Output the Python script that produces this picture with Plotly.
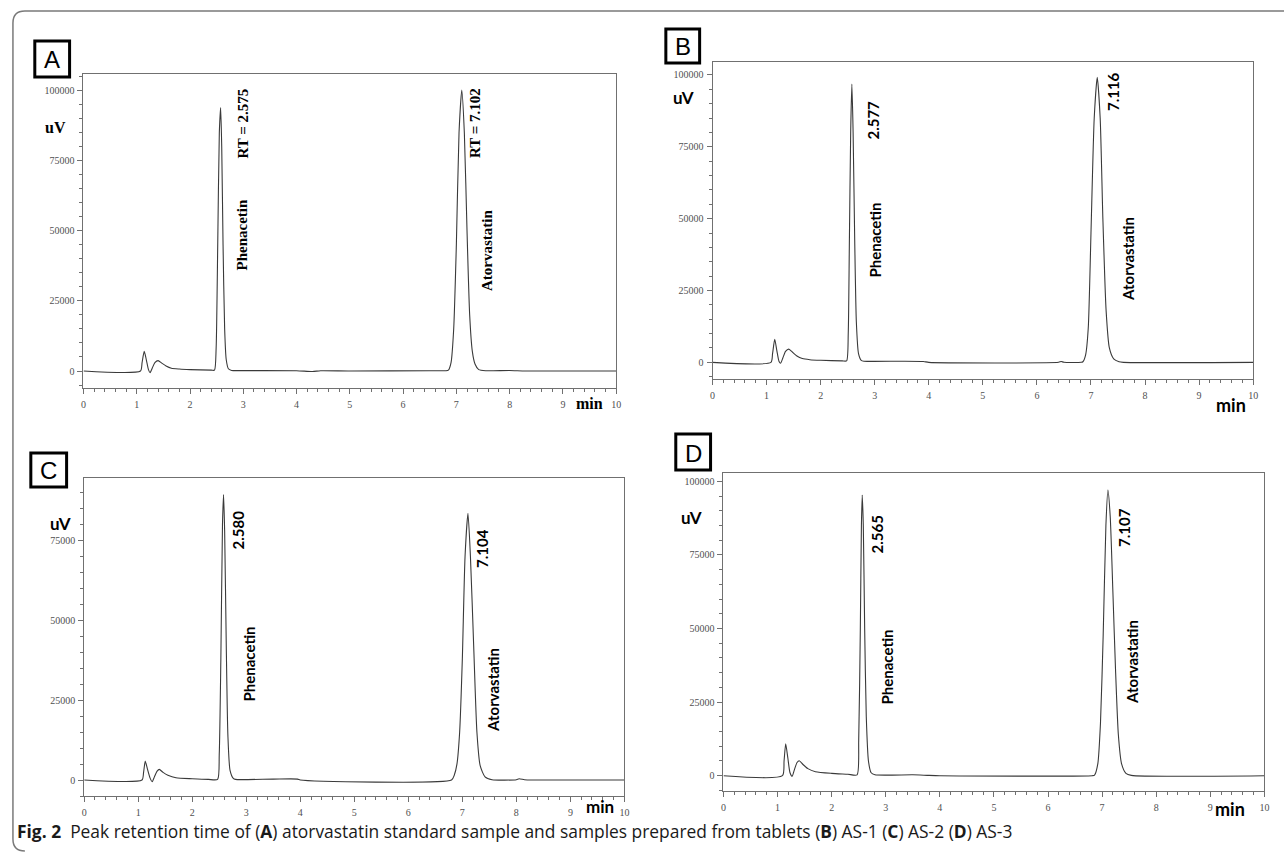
import plotly.graph_objects as go

# ---------------- data ----------------
t_A = [0, 1.07, 1.10, 1.14, 1.18, 1.22, 1.25, 1.29, 1.34, 1.40, 1.47, 1.55, 1.65, 1.80, 2.00, 2.40,
       2.46, 2.49, 2.52, 2.55, 2.575, 2.595, 2.62, 2.65, 2.68, 2.72, 2.78, 3.00, 4.00, 4.30, 4.45, 5.00,
       6.50, 6.80, 6.85, 6.90, 6.95, 7.00, 7.05, 7.102, 7.15, 7.20, 7.25, 7.30, 7.35, 7.42, 7.55, 8.00, 8.30, 10]
uv_A = [0, 0, 3000, 7000, 4000, 500, -600, 1000, 3000, 3700, 2800, 1800, 1000, 700, 500, 300,
        300, 8000, 45000, 85000, 94000, 80000, 45000, 15000, 4000, 800, 200, 150, 100, -200, 100, 0,
        100, 100, 300, 3000, 15000, 45000, 85000, 100200, 85000, 50000, 20000, 7000, 2500, 500, 100, 200, 0, 0]

t_B = [0, 1.08, 1.11, 1.15, 1.19, 1.23, 1.26, 1.30, 1.35, 1.41, 1.48, 1.56, 1.66, 1.80, 2.00, 2.40,
       2.48, 2.51, 2.53, 2.555, 2.577, 2.60, 2.63, 2.66, 2.70, 2.75, 2.80, 3.50, 3.90, 4.00, 6.40, 6.45, 6.50,
       6.82, 6.85, 6.90, 6.95, 7.00, 7.06, 7.116, 7.17, 7.22, 7.28, 7.34, 7.42, 7.52, 7.60, 10]
uv_B = [0, 0, 3000, 8000, 4000, 300, -300, 1500, 3800, 4600, 3500, 2200, 1300, 900, 700, 500,
        500, 10000, 40000, 80000, 96800, 80000, 42000, 14000, 3000, 700, 400, 400, 300, 0, 0, 300, 0,
        0, 200, 2500, 12000, 45000, 85000, 99200, 85000, 50000, 18000, 5000, 1200, 200, 0, 0]

t_C = [0, 1.07, 1.10, 1.13, 1.17, 1.22, 1.26, 1.30, 1.35, 1.39, 1.46, 1.55, 1.70, 2.00, 2.30,
       2.47, 2.50, 2.53, 2.56, 2.58, 2.60, 2.63, 2.66, 2.70, 2.76, 2.80, 3.50, 3.95, 4.00,
       6.80, 6.85, 6.90, 6.95, 7.00, 7.05, 7.104, 7.15, 7.21, 7.27, 7.33, 7.42, 7.55, 8.00, 8.05, 8.15, 8.30, 10]
uv_C = [0, 0, 2500, 5960, 3500, 600, -500, 1000, 2800, 3350, 2400, 1500, 700, 400, 200,
        200, 8000, 38000, 80000, 89500, 78000, 42000, 14000, 3000, 500, 200, 300, 300, 0,
        0, 1500, 5000, 15000, 38000, 70000, 83600, 70000, 42000, 15000, 4500, 1000, 100, 100, 400, 100, 0, 0]

t_D = [0, 1.09, 1.12, 1.15, 1.19, 1.23, 1.27, 1.31, 1.36, 1.40, 1.47, 1.56, 1.70, 2.00, 2.30,
       2.47, 2.50, 2.53, 2.55, 2.565, 2.585, 2.61, 2.64, 2.68, 2.73, 2.80, 3.50, 3.80, 4.00,
       6.82, 6.86, 6.92, 6.97, 7.02, 7.07, 7.107, 7.15, 7.20, 7.25, 7.30, 7.36, 7.44, 7.54, 10]
uv_D = [0, 0, 5000, 10800, 6000, 1000, -200, 2000, 4500, 5100, 3800, 2400, 1360, 800, 500,
        300, 12000, 50000, 85000, 95400, 85000, 50000, 20000, 5000, 1000, 300, 300, 100, 0,
        0, 200, 4000, 18000, 48000, 85000, 97100, 88000, 62000, 35000, 14000, 4000, 800, 100, 0]

panel_letters = ["A", "B", "C", "D"]
rt_labels = [["RT = 2.575", "RT = 7.102"], ["2.577", "7.116"], ["2.580", "7.104"], ["2.565", "7.107"]]
compound_names = ["Phenacetin", "Atorvastatin"]
y_tickvals = [0, 25000, 50000, 75000, 100000]
y_ticktext = ["0", "25000", "50000", "75000", "100000"]
x_tickvals = list(range(0, 11))
caption = ("<b>Fig. 2</b>  Peak retention time of (<b>A</b>) atorvastatin standard sample and samples "
           "prepared from tablets (<b>B</b>) AS-1 (<b>C</b>) AS-2 (<b>D</b>) AS-3")

# ---------------- layout helpers ----------------
W, H = 1284, 854
def px(x): return x / W
def py(y): return 1 - y / H

panels = [
    # frame left, top, right, bottom (px), y range
    dict(box=(81, 74, 617, 388), yr=[-6065, 105960]),
    dict(box=(714, 61.7, 1258, 379), yr=[-5800, 104600]),
    dict(box=(81.7, 477.7, 625.3, 796), yr=[-5000, 94760]),
    dict(box=(725, 473.3, 1269.3, 791), yr=[-5200, 102750]),
]
series = [(t_A, uv_A), (t_B, uv_B), (t_C, uv_C), (t_D, uv_D)]

fig = go.Figure()
for i, (t, v) in enumerate(series):
    sfx = "" if i == 0 else str(i + 1)
    fig.add_trace(go.Scatter(x=t, y=v, mode="lines", xaxis="x" + sfx, yaxis="y" + sfx,
                             line=dict(color="#3a3a3a", width=1.1, shape="spline", smoothing=0.6),
                             showlegend=False, hoverinfo="skip"))

axcol = "#707070"
tickfont = dict(family="Liberation Serif", size=10, color="#505050")
layout = dict(width=W, height=H, margin=dict(l=0, r=0, t=0, b=0),
              paper_bgcolor="white", plot_bgcolor="white", showlegend=False)
for i, p in enumerate(panels):
    l, tp, r, b = p["box"]
    sfx = "" if i == 0 else str(i + 1)
    layout["xaxis" + sfx] = dict(
        domain=[px(l), px(r)], range=[0, 10], anchor="y" + sfx,
        tickvals=x_tickvals, ticks="outside", ticklen=5, tickcolor=axcol, tickwidth=1,
        minor=dict(dtick=0.2, tick0=0, ticks="outside", ticklen=3, tickcolor=axcol, showgrid=False),
        showline=True, linecolor=axcol, linewidth=1, mirror=True,
        showgrid=False, zeroline=False, tickfont=tickfont, ticklabelstandoff=2)
    layout["yaxis" + sfx] = dict(
        domain=[py(b), py(tp)], range=p["yr"], anchor="x" + sfx,
        tickvals=y_tickvals, ticktext=y_ticktext, ticks="outside", ticklen=5, tickcolor=axcol, tickwidth=1,
        minor=dict(dtick=5000, tick0=0, ticks="outside", ticklen=3, tickcolor=axcol, showgrid=False),
        showline=True, linecolor=axcol, linewidth=1, mirror=True,
        showgrid=False, zeroline=False, tickfont=tickfont, ticklabelstandoff=1)
fig.update_layout(**layout)

serif_b = dict(family="Liberation Serif", size=15, color="black")
sans_b = dict(family="Lato", size=15, color="black")

ann = []
def text(x, y, s, font, angle=0, xa="center", ya="middle"):
    ann.append(dict(x=px(x), y=py(y), xref="paper", yref="paper", text=s, showarrow=False,
                    font=font, textangle=angle, xanchor=xa, yanchor=ya))

# Panel A (serif text)
text(242, 123, "<b>" + rt_labels[0][0] + "</b>", serif_b, -90)
text(240, 235, "<b>" + compound_names[0] + "</b>", serif_b, -90)
text(475, 123, "<b>" + rt_labels[0][1] + "</b>", serif_b, -90)
text(487, 250, "<b>" + compound_names[1] + "</b>", serif_b, -90)
text(53, 127, "<b>uV</b>", dict(family="Liberation Serif", size=16, color="black"))
text(590, 403, "<b>min</b>", dict(family="Liberation Serif", size=16, color="black"))

# Panel B
text(875, 120, "<b>" + rt_labels[1][0] + "</b>", sans_b, -90)
text(877, 240, "<b>" + compound_names[0] + "</b>", sans_b, -90)
text(1117, 92, "<b>" + rt_labels[1][1] + "</b>", sans_b, -90)
text(1132, 259, "<b>" + compound_names[1] + "</b>", sans_b, -90)
text(685, 97, "<b>uV</b>", dict(family="Lato", size=17, color="black"))
text(1236, 405, "<b>min</b>", dict(family="Lato", size=18, color="black"))

# Panel C
text(236, 530, "<b>" + rt_labels[2][0] + "</b>", sans_b, -90)
text(248, 664, "<b>" + compound_names[0] + "</b>", sans_b, -90)
text(482, 548, "<b>" + rt_labels[2][1] + "</b>", sans_b, -90)
text(493, 690, "<b>" + compound_names[1] + "</b>", sans_b, -90)
text(58, 523, "<b>uV</b>", dict(family="Lato", size=17, color="black"))
text(601, 806, "<b>min</b>", dict(family="Lato", size=17, color="black"))

# Panel D
text(879, 535, "<b>" + rt_labels[3][0] + "</b>", sans_b, -90)
text(890, 667, "<b>" + compound_names[0] + "</b>", sans_b, -90)
text(1128, 527, "<b>" + rt_labels[3][1] + "</b>", sans_b, -90)
text(1136, 662, "<b>" + compound_names[1] + "</b>", sans_b, -90)
text(693, 517, "<b>uV</b>", dict(family="Lato", size=17, color="black"))
text(1235, 809, "<b>min</b>", dict(family="Lato", size=18, color="black"))

# Panel letters in boxes
boxes = [(32, 41, 67, 77), (667, 29, 701, 63), (28, 453, 64, 487), (677, 434, 712, 470)]
shapes = []
for letter, (x0, y0, x1, y1) in zip(panel_letters, boxes):
    shapes.append(dict(type="rect", xref="paper", yref="paper", x0=px(x0), x1=px(x1), y0=py(y1), y1=py(y0),
                       line=dict(color="black", width=3), fillcolor="white", layer="above"))
    text((x0 + x1) / 2, (y0 + y1) / 2 + 1, letter, dict(family="Liberation Sans", size=24, color="black"))

# Outer rounded border
r = 12
x0b, y0b, x1b, y1b = 10, 11, 1300, 851
path = (f"M {px(x1b)},{py(y0b)} L {px(x0b + r)},{py(y0b)} Q {px(x0b)},{py(y0b)} {px(x0b)},{py(y0b + r)} "
        f"L {px(x0b)},{py(y1b - r)} Q {px(x0b)},{py(y1b)} {px(x0b + r)},{py(y1b)}")
shapes.append(dict(type="path", xref="paper", yref="paper", path=path,
                   line=dict(color="#7a7a7a", width=1.5)))

# Caption
ann.append(dict(x=px(12), y=py(831), xref="paper", yref="paper", text=caption, showarrow=False,
                xanchor="left", yanchor="middle", font=dict(family="Open Sans", size=17.4, color="#1a1a1a")))

fig.update_layout(annotations=ann, shapes=shapes)
fig.write_html("out.html", config={"displayModeBar": False},
               post_script="document.body.style.margin='0';document.body.style.overflow='hidden';")
